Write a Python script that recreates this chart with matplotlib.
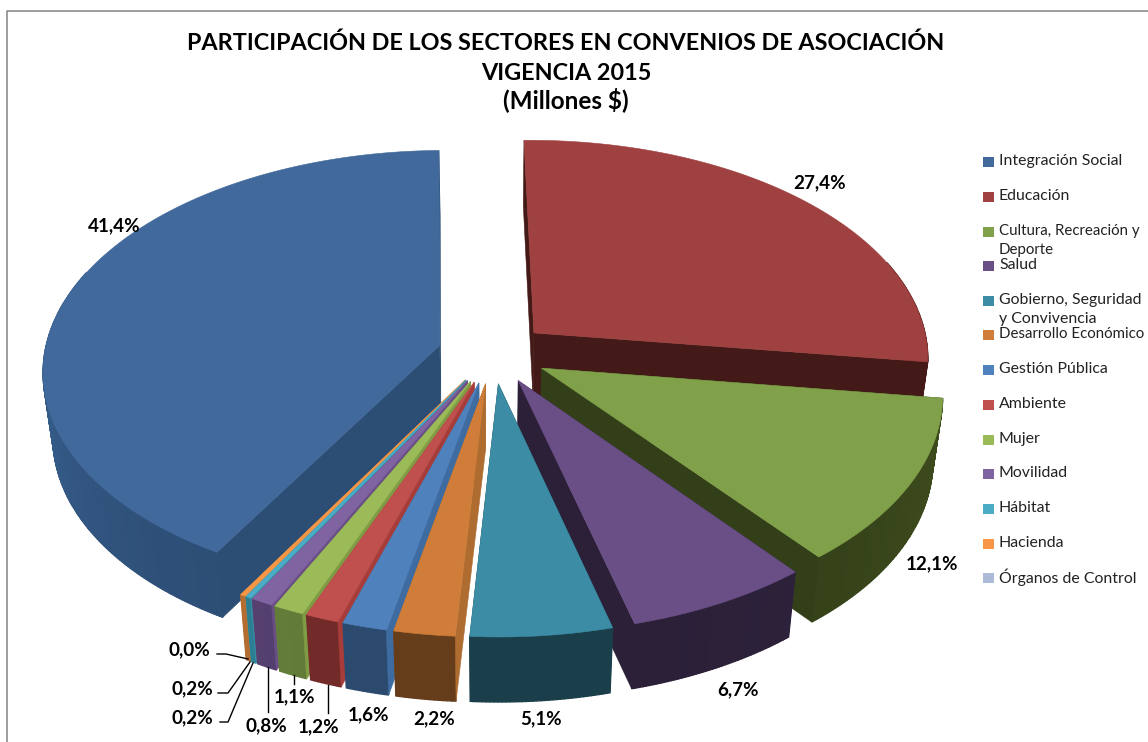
import numpy as np
import matplotlib
matplotlib.use('Agg')
import matplotlib.pyplot as plt
from matplotlib.patches import Polygon, Rectangle

sectores = ['Integración Social', 'Educación', 'Cultura, Recreación y\nDeporte', 'Salud',
            'Gobierno, Seguridad\ny Convivencia', 'Desarrollo Económico', 'Gestión Pública',
            'Ambiente', 'Mujer', 'Movilidad', 'Hábitat', 'Hacienda', 'Órganos de Control']
participacion = [41.4, 27.4, 12.1, 6.7, 5.1, 2.2, 1.6, 1.2, 1.1, 0.8, 0.2, 0.2, 0.0]

# colores: cara superior, pared exterior, pared radial
c_top = ['#41699C', '#9F4140', '#81A04A', '#6A4F87', '#3C8CA5', '#CF7D38', '#4F81BD',
         '#C0504D', '#9BBB59', '#8064A2', '#4BACC6', '#F79646', '#AABAD7']
c_arc = ['#2C4C72', '#431A17', '#333F18', '#2B2038', '#1A3F4A', '#653D1B', '#2B4A6E',
         '#722B29', '#617A38', '#533F6E', '#2B7C90', '#B06A30', '#8090A8']
c_rad = ['#2D4E74', '#431A17', '#333F18', '#2B2038', '#1A3F4A', '#AE6C30', '#3F6CA0',
         '#A63D3A', '#7F9C45', '#6A4F87', '#3A8FA5', '#CF7D38', '#8090A8']

# etiquetas (centro en pixeles)
pos_etq = [(114, 226), (820, 183), (932, 564), (738, 690), (541, 719), (434, 719), (368, 715),
           (319, 727), (294, 697), (266, 726), (192, 718), (192, 689), (189, 650)]
guias = [[(217, 654), (226, 654), (248, 659)],
         [(218, 693), (228, 693), (250, 662)],
         [(220, 722), (228, 722), (253, 663)],
         [(268, 667), (268, 712)],
         [(328, 685), (328, 713)],
         [(294, 675), (294, 684)]]
y_ley = [162, 197, 232, 266, 301, 335, 370, 405, 440, 474, 509, 544, 578]

CX, CY = 493, 353
RX, RY = 395, 218
EXPL = 0.14
PERSP = 0.11
DEPTH = 65
INICIO = 210.0


def proyectar(x, y, z):
    w = 1.0 / (1.0 + PERSP * y)
    esc = 1.0 - 0.022 * z
    return CX + RX * x * w * esc, CY - RY * y * w + DEPTH * z


def aclarar(col, f):
    rgb = np.array(matplotlib.colors.to_rgb(col)) * f
    return tuple(np.clip(rgb, 0, 1))


def dibujar_sector(ax, a0, a1, i):
    th = np.radians(np.linspace(a0, a1, max(int(a1 - a0) * 2, 2) + 1))
    mid = np.radians((a0 + a1) / 2.0)
    ox, oy = EXPL * np.sin(mid), EXPL * np.cos(mid)
    px = ox + np.sin(th)
    py = oy + np.cos(th)

    def pared_radial(k):
        p = [proyectar(ox, oy, 0), proyectar(px[k], py[k], 0),
             proyectar(px[k], py[k], 1), proyectar(ox, oy, 1)]
        ax.add_patch(Polygon(p, fc=c_rad[i], ec=c_rad[i], lw=0.4))

    # primero las paredes radiales que miran hacia atras
    vista_ini = np.sin(th[0]) < 0
    vista_fin = np.sin(th[-1]) > 0
    if not vista_ini:
        pared_radial(0)
    if not vista_fin:
        pared_radial(-1)

    # pared exterior, algo mas clara hacia los lados
    for k in range(len(th) - 1):
        if np.cos(th[k]) > 0.35:
            continue
        f = 1.0 + 0.20 * abs(np.sin(th[k])) ** 3
        col = aclarar(c_arc[i], f)
        p = [proyectar(px[k], py[k], 0), proyectar(px[k + 1], py[k + 1], 0),
             proyectar(px[k + 1], py[k + 1], 1), proyectar(px[k], py[k], 1)]
        ax.add_patch(Polygon(p, fc=col, ec=col, lw=1.0))

    if vista_ini:
        pared_radial(0)
    if vista_fin:
        pared_radial(-1)

    # cara superior
    p = [proyectar(ox, oy, 0)] + [proyectar(a, b, 0) for a, b in zip(px, py)]
    ax.add_patch(Polygon(p, fc=c_top[i], ec=c_top[i], lw=0.4))


plt.rcParams['font.family'] = ['Lato', 'DejaVu Sans']

fig = plt.figure(figsize=(11.48, 7.42), dpi=100)
ax = fig.add_axes([0, 0, 1, 1])
ax.set_xlim(0, 1148)
ax.set_ylim(742, 0)
ax.axis('off')

# marco del grafico
ax.plot([7, 7, 1148], [742, 11, 11], color='#8C8C8C', lw=1.2)

angulos = INICIO + np.cumsum([0] + participacion) * 3.6
orden = sorted(range(len(participacion)),
               key=lambda n: np.cos(np.radians((angulos[n] + angulos[n + 1]) / 2.0)), reverse=True)
for i in orden:
    if participacion[i] > 0:
        dibujar_sector(ax, angulos[i], angulos[i + 1], i)

ax.text(566, 43, 'PARTICIPACIÓN DE LOS SECTORES EN CONVENIOS DE ASOCIACIÓN', ha='center', va='center',
        fontsize=16.85, fontweight='bold')
ax.text(566, 73, 'VIGENCIA 2015', ha='center', va='center', fontsize=16.85, fontweight='bold')
ax.text(566, 100, '(Millones $)', ha='center', va='center', fontsize=17.5, fontweight='bold')

for v, (x, y) in zip(participacion, pos_etq):
    ax.text(x, y, f'{v:.1f}%'.replace('.', ','), ha='center', va='center', fontsize=13.6, fontweight='bold')

for g in guias:
    ax.plot([a for a, b in g], [b for a, b in g], color='black', lw=1.0)

for nombre, col, y in zip(sectores, c_top, y_ley):
    ax.add_patch(Rectangle((983, y - 5), 11, 10, fc=col, ec='none'))
    lineas = nombre.split('\n')
    # los nombres largos no caben en el borde derecho
    fs = 10.8 if len(lineas[0]) >= 20 else 11.4
    ax.text(999, y - 1, lineas[0], va='center', fontsize=fs, color='#222222')
    if len(lineas) > 1:
        ax.text(999, y + 18, lineas[1], va='center', fontsize=fs, color='#222222')

fig.savefig('out.png', dpi=100)
